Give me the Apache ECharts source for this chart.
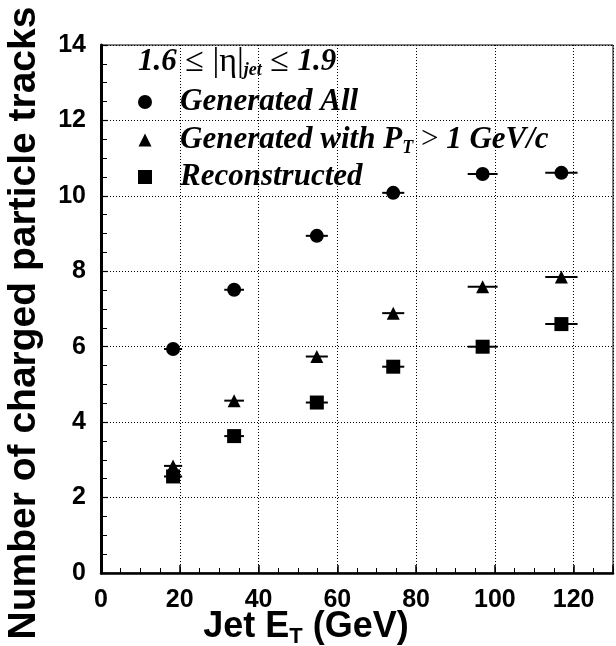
<!DOCTYPE html>
<html><head><meta charset="utf-8">
<script src="https://cdn.jsdelivr.net/npm/echarts@6/dist/echarts.min.js"></script>
<style>html,body{margin:0;padding:0;background:#fff}#c{width:616px;height:646px}</style>
</head><body><div id="c"></div>
<script>
// Data
const jetEt  = [18.3, 33.8, 54.8, 74.2, 96.9, 116.9];
const etErr  = [2.3, 2.5, 2.8, 2.8, 3.8, 4.1];
const genAll = [5.94, 7.51, 8.94, 10.08, 10.58, 10.61];
const genPt1 = [2.84, 4.57, 5.74, 6.89, 7.59, 7.85];
const reco   = [2.56, 3.63, 4.52, 5.47, 6.00, 6.60];
const xTickLabels = ['0', '20', '40', '60', '80', '100', '120'];
const yTickLabels = ['0', '2', '4', '6', '8', '10', '12', '14'];

const SANS = '"Liberation Sans", Arial, Helvetica, sans-serif';
const SERIF = '"Liberation Serif", "Times New Roman", serif';

function errBars(vals) {
  return {
    type: 'custom',
    data: jetEt.map((x, i) => [x, vals[i], etErr[i]]),
    encode: { x: 0, y: 1 },
    silent: true,
    z: 2,
    renderItem(params, api) {
      const x = api.value(0), y = api.value(1), e = api.value(2);
      const p1 = api.coord([x - e, y]), p2 = api.coord([x + e, y]);
      return { type: 'line', shape: { x1: p1[0], y1: p1[1], x2: p2[0], y2: p2[1] },
               style: { stroke: '#000', lineWidth: 2 } };
    }
  };
}
function points(name, vals, symbol, size) {
  return {
    type: 'scatter', name, symbol, symbolSize: size, z: 3,
    data: jetEt.map((x, i) => [x, vals[i]]),
    itemStyle: { color: '#000', opacity: 1 }
  };
}

const chart = echarts.init(document.getElementById('c'), null, { renderer: 'canvas' });
const rich = {
  b: { fontFamily: SERIF, fontWeight: 'bold', fontStyle: 'italic', fontSize: 31, color: '#000' },
  r: { fontFamily: SERIF, fontWeight: 'normal', fontSize: 31, color: '#000' },
  R: { fontFamily: SERIF, fontWeight: 'normal', fontSize: 34, color: '#000' },
  s: { fontFamily: SERIF, fontWeight: 'bold', fontStyle: 'italic', fontSize: 18, color: '#000', padding: [17, 0, 0, 0] }
};
const xrich = {
  m: { fontFamily: SANS, fontWeight: 'bold', fontSize: 36, color: '#000' },
  t: { fontFamily: SANS, fontWeight: 'bold', fontSize: 22, color: '#000', padding: [20, 0, 0, 0] }
};

chart.setOption({
  backgroundColor: '#fff',
  animation: false,
  grid: { left: 101, right: 3, top: 45, bottom: 73, show: true, borderColor: '#000', borderWidth: 1, backgroundColor: 'transparent' },
  xAxis: [{
    type: 'value', min: 0, max: 130, interval: 20,
    axisLine: { show: true, onZero: false, lineStyle: { color: '#000', width: 2.5 } },
    axisTick: { show: true, inside: true, length: 8, lineStyle: { color: '#000', width: 1.5 } },
    splitLine: { show: true, lineStyle: { color: '#000', width: 1, type: [1, 2] } },
    axisLabel: { margin: 15, color: '#000', fontFamily: SANS, fontWeight: 'bold', fontSize: 25,
      formatter: v => { const i = xTickLabels.indexOf(String(v)); return i >= 0 ? xTickLabels[i] : ''; } }
  }, {
    type: 'value', min: 0, max: 130, interval: 5, position: 'bottom',
    axisLine: { show: false }, splitLine: { show: false }, axisLabel: { show: false },
    axisTick: { show: true, inside: true, length: 5, lineStyle: { color: '#000', width: 1 } }
  }],
  yAxis: [{
    type: 'value', min: 0, max: 14, interval: 2,
    axisLine: { show: true, onZero: false, lineStyle: { color: '#000', width: 3 } },
    axisTick: { show: true, inside: true, length: 7, lineStyle: { color: '#000', width: 1.2 } },
    minorTick: { show: true, splitNumber: 4, length: 6, lineStyle: { color: '#000', width: 1 } },
    splitLine: { show: true, lineStyle: { color: '#000', width: 1, type: [1, 2] } },
    axisLabel: { margin: 15, color: '#000', fontFamily: SANS, fontWeight: 'bold', fontSize: 25,
      formatter: v => { const i = yTickLabels.indexOf(String(v)); return i >= 0 ? yTickLabels[i] : ''; } }
  }],
  series: [
    errBars(genAll), errBars(genPt1), errBars(reco),
    points('Generated All', genAll, 'circle', 14),
    points('Generated with PT > 1 GeV/c', genPt1, 'triangle', 13),
    points('Reconstructed', reco, 'rect', 14)
  ],
  graphic: [
    { type: 'text', x: 24, y: 323, rotation: Math.PI / 2,
      style: { text: 'Number of charged particle tracks', fill: '#000', font: 'bold 39px ' + SANS, align: 'center', verticalAlign: 'middle' } },
    { type: 'text', x: 306, y: 627,
      style: { text: '{m|Jet E}{t|T}{m| (GeV)}', rich: xrich, align: 'center', verticalAlign: 'middle' } },
    { type: 'text', x: 138, y: 62,
      style: { text: '{b|1.6}{R| ≤ |η|}{s|jet}{R| ≤ }{b|1.9}', rich, align: 'left', verticalAlign: 'middle' } },
    { type: 'circle', shape: { cx: 145, cy: 102, r: 7 }, style: { fill: '#000' } },
    { type: 'polygon', shape: { points: [[145, 133.5], [151.5, 146.5], [138.5, 146.5]] }, style: { fill: '#000' } },
    { type: 'rect', shape: { x: 138, y: 170, width: 14, height: 14 }, style: { fill: '#000' } },
    { type: 'text', x: 180, y: 102,
      style: { text: '{b|Generated All}', rich, align: 'left', verticalAlign: 'middle' } },
    { type: 'text', x: 180, y: 140,
      style: { text: '{b|Generated with }{b|P}{s|T}{r| > }{b|1 GeV/c}', rich, align: 'left', verticalAlign: 'middle' } },
    { type: 'text', x: 180, y: 177,
      style: { text: '{b|Reconstructed}', rich, align: 'left', verticalAlign: 'middle' } }
  ]
});
</script>
</body></html>
